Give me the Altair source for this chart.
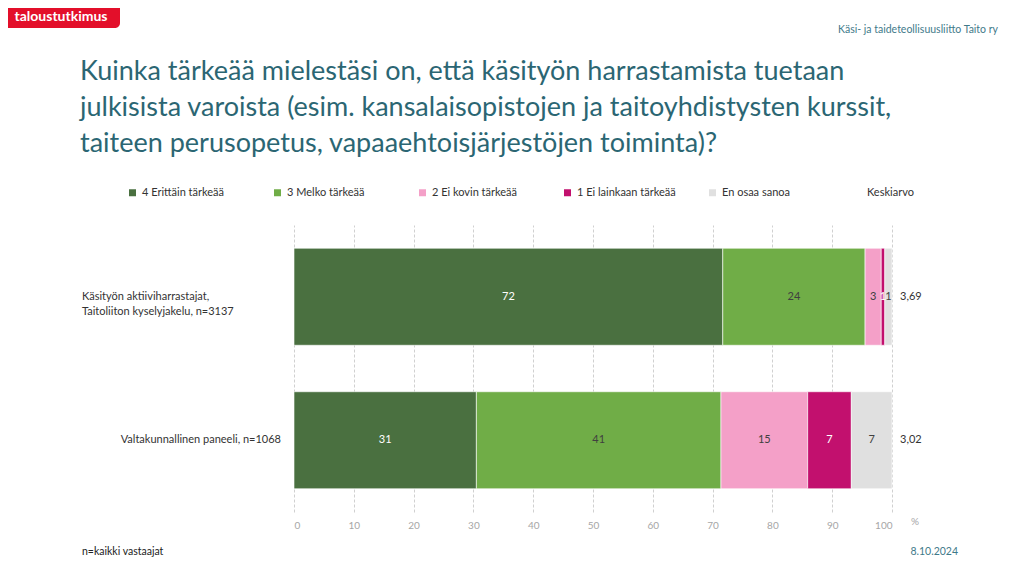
import altair as alt
import pandas as pd

# ---- data ----
rows = ["Käsityön aktiiviharrastajat, Taitoliiton kyselyjakelu, n=3137",
        "Valtakunnallinen paneeli, n=1068"]
row_label_lines = [["Käsityön aktiiviharrastajat,", "Taitoliiton kyselyjakelu, n=3137"],
                   ["Valtakunnallinen paneeli, n=1068"]]
categories = ["4 Erittäin tärkeää", "3 Melko tärkeää", "2 Ei kovin tärkeää",
              "1 Ei lainkaan tärkeää", "En osaa sanoa"]
colors = ["#4a7040", "#70ad47", "#f4a0c8", "#c2106e", "#e0e0e0"]
shares_row1 = [71.7, 23.8, 2.7, 0.6, 1.2]
shares_row2 = [30.5, 40.9, 14.5, 7.3, 6.8]
labels_row1 = ["72", "24", "3", "1", "1"]
labels_row2 = ["31", "41", "15", "7", "7"]
means = ["3,69", "3,02"]
x_ticks = [0, 10, 20, 30, 40, 50, 60, 70, 80, 90, 100]
title_lines = ["Kuinka tärkeää mielestäsi on, että käsityön harrastamista tuetaan",
               "julkisista varoista (esim. kansalaisopistojen ja taitoyhdistysten kurssit,",
               "taiteen perusopetus, vapaaehtoisjärjestöjen toiminta)?"]

FONT = "Lato"

recs = []
for r, shares, labs in [(rows[0], shares_row1, labels_row1), (rows[1], shares_row2, labels_row2)]:
    for i, (c, s, l) in enumerate(zip(categories, shares, labs)):
        recs.append({"row": r, "cat": c, "order": i, "value": s, "label": l,
                     "dark": c in (categories[0], categories[3])})
df = pd.DataFrame(recs)
mean_df = pd.DataFrame({"row": rows, "mean": means})

legend_domain = categories + ["Keskiarvo"]
legend_range = colors + ["transparent"]

yscale = alt.Scale(domain=rows, paddingInner=0.324, paddingOuter=0.162)

base = alt.Chart(df).transform_stack(
    stack="value", groupby=["row"], as_=["x0", "x1"], sort=[alt.SortField("order")]
).transform_calculate(mid="(datum.x0 + datum.x1) / 2")

bars = base.mark_bar(stroke="white", strokeWidth=0.6).encode(
    x=alt.X("x0:Q", scale=alt.Scale(domain=[0, 100]),
            axis=alt.Axis(values=x_ticks, grid=True, gridDash=[3, 2], gridColor="#d0d0d0",
                          domain=False, ticks=False, labelColor="#a6a6a6", labelFontSize=10,
                          labelFont=FONT, labelPadding=8, title=None)),
    x2="x1:Q",
    y=alt.Y("row:N", scale=yscale, axis=None),
    color=alt.Color("cat:N", scale=alt.Scale(domain=legend_domain, range=legend_range),
                    legend=alt.Legend(title=None, orient="none", legendX=-167, legendY=-38,
                                      direction="horizontal", columns=6, gridAlign="all",
                                      columnPadding=31, symbolType="square", symbolSize=49,
                                      symbolStrokeWidth=0, labelFont=FONT, labelFontSize=11,
                                      labelColor="#333333", labelOffset=4, labelLimit=200)),
)

bar_text = base.mark_text(font=FONT, fontSize=11).encode(
    x="mid:Q",
    y=alt.Y("row:N", scale=yscale),
    text="label:N",
    color=alt.condition("datum.dark", alt.value("#ffffff"), alt.value("#404040")),
)

mean_text = alt.Chart(mean_df).mark_text(font=FONT, fontSize=11, align="left", dx=8,
                                         color="#333333").encode(
    x=alt.datum(100), y=alt.Y("row:N", scale=yscale), text="mean:N")

row1_lab = alt.Chart(pd.DataFrame({"row": [rows[0]], "t": [row_label_lines[0]]})).mark_text(
    font=FONT, fontSize=11, align="left", lineHeight=15, color="#333333").encode(
    x=alt.value(-212), y=alt.Y("row:N", scale=yscale), text="t")
row2_lab = alt.Chart(pd.DataFrame({"row": [rows[1]], "t": [row_label_lines[1]]})).mark_text(
    font=FONT, fontSize=11, align="right", color="#333333").encode(
    x=alt.value(-13), y=alt.Y("row:N", scale=yscale), text="t")

def txt(t, x, y, **kw):
    return alt.Chart(pd.DataFrame({"t": [t]})).mark_text(font=FONT, **kw).encode(
        text="t", x=alt.value(x), y=alt.value(y))

title = txt(title_lines, -214, -145, fontSize=27, align="left", baseline="alphabetic",
            lineHeight=36, color="#2b6673")
logo_bg = alt.Chart(pd.DataFrame({"a": [0]})).mark_rect(
    color="#e30f2a", cornerRadiusBottomRight=5).encode(
    x=alt.value(-290), x2=alt.value(-174), y=alt.value(-230), y2=alt.value(-197))
logo = txt("taloustutkimus", -233, -208, fontSize=14, color="white", fontWeight="bold")
org = txt("Käsi- ja taideteollisuusliitto Taito ry", 704, -195, fontSize=10.5,
          align="right", color="#3f7a8a")
pct = txt("%", 621, 297, fontSize=10, color="#a6a6a6")
foot = txt("n=kaikki vastaajat", -212, 327, fontSize=10.5, align="left", color="#222222")
date = txt("8.10.2024", 664, 327, fontSize=10.5, align="right", color="#3f7a8a")

chart = alt.layer(bars, bar_text, mean_text, row1_lab, row2_lab, title, logo_bg, logo,
                  org, pct, foot, date).properties(
    width=598, height=287,
    padding={"left": 286, "top": 217, "right": 116, "bottom": 53},
    autosize=alt.AutoSizeParams(type="none"),
).configure_view(stroke=None)

chart.save("out.html", embed_options={"renderer": "svg", "actions": False})
